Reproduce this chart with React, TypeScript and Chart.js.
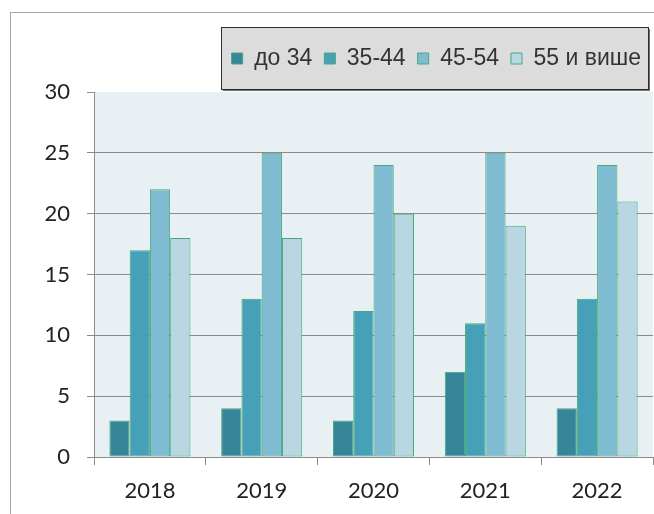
import React, { useEffect, useRef } from "react";
import { Chart, registerables } from "chart.js";

Chart.register(...registerables);

const categories = ["2018", "2019", "2020", "2021", "2022"];
const seriesNames = ["до 34", "35-44", "45-54", "55 и више"];
const under34 = [3, 4, 3, 7, 4];
const age35to44 = [17, 13, 12, 11, 13];
const age45to54 = [22, 25, 24, 25, 24];
const age55plus = [18, 18, 20, 19, 21];
const yMin = 0;
const yMax = 30;
const yStep = 5;

const fillColors = ["#378599", "#46a0b8", "#7fbcd2", "#b8d7e2"];
const borderGreen = "#46a87a";
const gridGray = "#8c8c8c";

const decorPlugin = {
  id: "decor",
  beforeInit(chart: any) {
    const legend = chart.legend;
    if (legend) {
      const origFit = legend.fit;
      legend.fit = function () {
        origFit.call(this);
        this.height += 12;
      };
    }
  },
  beforeDraw(chart: any) {
    const ctx = chart.ctx;
    const area = chart.chartArea;
    ctx.save();
    // outer frame
    ctx.strokeStyle = "#a6a6a6";
    ctx.lineWidth = 1;
    ctx.strokeRect(10.5, 12.5, chart.width + 20, chart.height + 20);
    // plot background
    ctx.fillStyle = "#e8f0f3";
    ctx.fillRect(area.left, area.top, area.right - area.left, area.bottom - area.top);
    // legend box
    const legend = chart.legend;
    if (legend && legend.legendHitBoxes && legend.legendHitBoxes.length) {
      const hbs = legend.legendHitBoxes;
      let l = Infinity, r = -Infinity, t = Infinity, b = -Infinity;
      for (const h of hbs) {
        l = Math.min(l, h.left);
        r = Math.max(r, h.left + h.width);
        t = Math.min(t, h.top);
        b = Math.max(b, h.top + h.height);
      }
      const bx = Math.round(l - 11) + 0.5;
      const by = Math.round(t - 20) + 0.5;
      const bw = Math.round(r - l + 18);
      const bh = Math.round(b - t + 39);
      ctx.fillStyle = "#6e6e6e";
      ctx.fillRect(bx + 1.5, by + 1.5, bw, bh);
      ctx.fillStyle = "#dcdcdc";
      ctx.fillRect(bx, by, bw, bh);
      ctx.strokeStyle = "#2e2e2e";
      ctx.lineWidth = 1;
      ctx.strokeRect(bx, by, bw, bh);
    }
    ctx.restore();
  },
};

export default function App() {
  const canvasRef = useRef<HTMLCanvasElement | null>(null);

  useEffect(() => {
    if (!canvasRef.current) return;
    const seriesValues = [under34, age35to44, age45to54, age55plus];
    const chart = new Chart(canvasRef.current, {
      type: "bar",
      data: {
        labels: categories,
        datasets: seriesNames.map((name, i) => ({
          label: name,
          data: seriesValues[i],
          backgroundColor: fillColors[i],
          borderColor: borderGreen,
          borderWidth: 1,
          borderSkipped: false,
          categoryPercentage: 0.725,
          barPercentage: 1,
        })),
      },
      options: {
        responsive: false,
        animation: false,
        layout: { padding: { left: 10, right: 1, top: 35, bottom: 10 } },
        plugins: {
          legend: {
            position: "top",
            align: "end",
            labels: {
              boxWidth: 11,
              boxHeight: 11,
              padding: 12,
              color: "#333333",
              font: { family: "'Liberation Sans', Arial, sans-serif", size: 23 },
            },
          },
          tooltip: { enabled: false },
        },
        scales: {
          x: {
            grid: {
              offset: true,
              drawOnChartArea: false,
              drawTicks: true,
              tickLength: 8,
              color: gridGray,
            },
            border: { display: true, color: gridGray },
            ticks: {
              padding: 13,
              color: "#222222",
              font: { family: "Lato, 'Open Sans', sans-serif", size: 22 },
            },
            afterFit(scale: any) {
              scale.height = 47;
            },
          },
          y: {
            min: yMin,
            max: yMax,
            ticks: {
              stepSize: yStep,
              padding: 17,
              color: "#222222",
              font: { family: "Lato, 'Open Sans', sans-serif", size: 22 },
            },
            grid: {
              tickLength: 7,
              color: (c: any) => (c.tick && c.tick.value === yMax ? "rgba(0,0,0,0)" : gridGray),
              tickColor: gridGray,
            },
            border: { display: true, color: gridGray },
            afterFit(scale: any) {
              scale.width = 84;
            },
          },
        },
      },
      plugins: [decorPlugin],
    } as any);
    return () => chart.destroy();
  }, []);

  return (
    <div style={{ position: "absolute", left: 0, top: 0, width: 654, height: 514, background: "#ffffff" }}>
      <canvas ref={canvasRef} width={654} height={514} />
    </div>
  );
}
